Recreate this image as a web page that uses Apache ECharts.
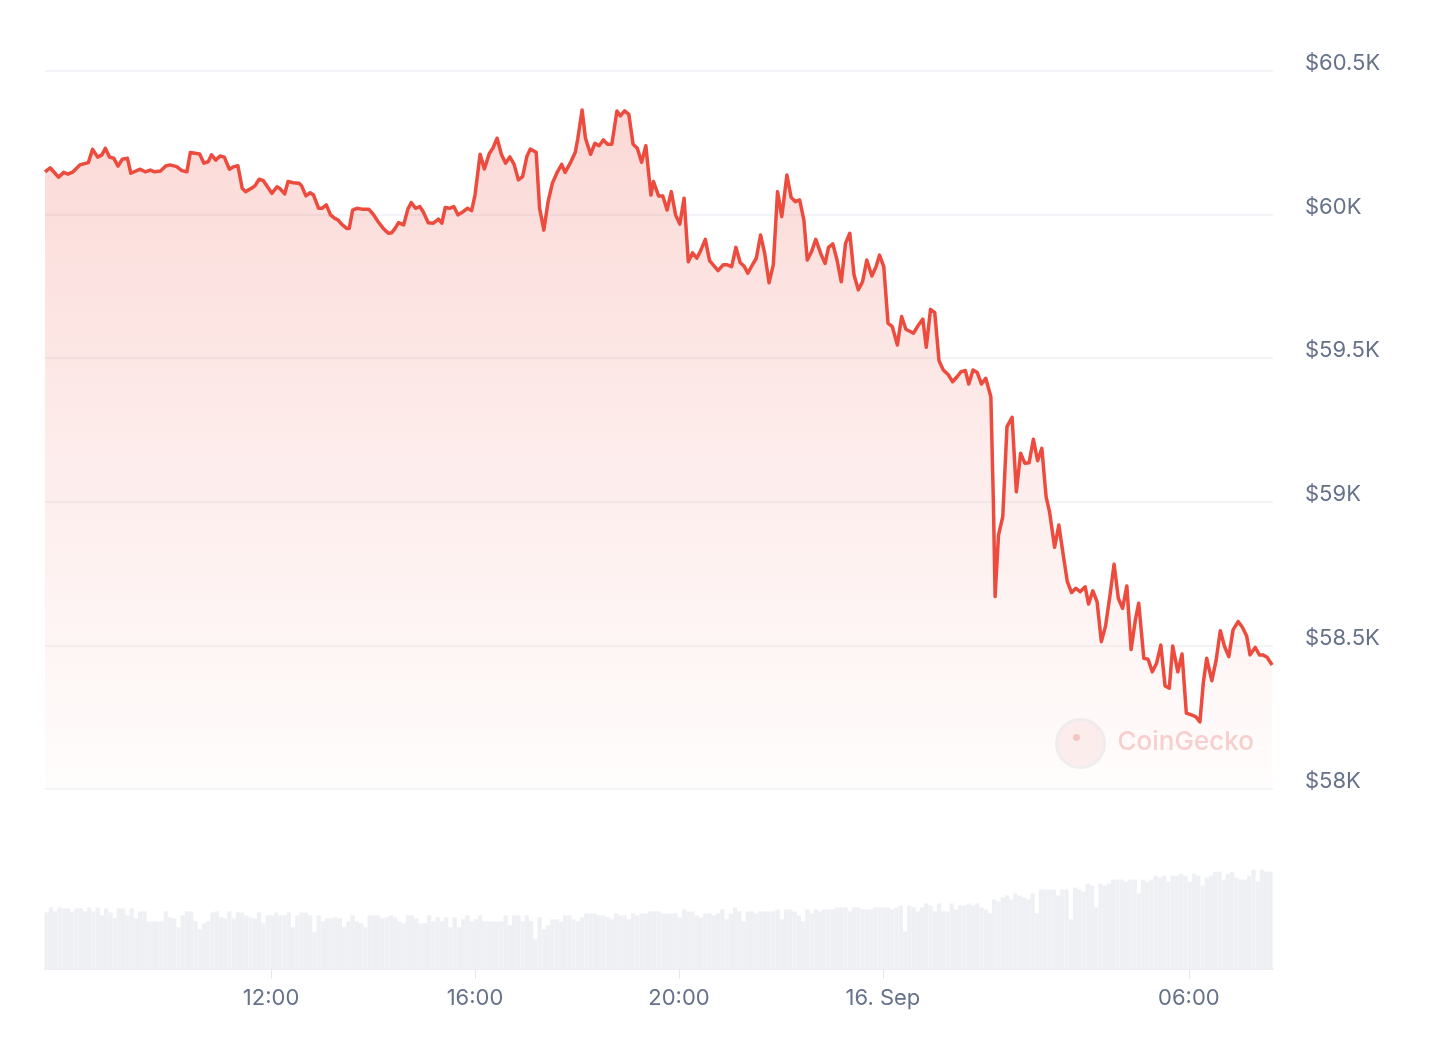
<!DOCTYPE html>
<html>
<head>
<meta charset="utf-8">
<script src="https://cdn.jsdelivr.net/npm/echarts@6/dist/echarts.min.js"></script>
<style>
html,body{margin:0;padding:0;background:#fff;}
#chart{width:1444px;height:1052px;}
</style>
</head>
<body>
<div id="chart"></div>
<script>
// Time reference: 15 Sep 2024 07:34 (UTC); minutes offset from it
const START = Date.UTC(2024, 8, 15, 7, 34);
const END = Date.UTC(2024, 8, 16, 7, 39);

const priceMinutes = [
0,6,16,22,27,33,41,51,56,62,
67,71,76,81,86,91,97,101,112,118,
124,129,136,142,147,155,161,167,171,182,
187,192,196,201,206,211,217,222,227,232,
236,243,247,252,257,267,273,276,282,286,
292,299,302,307,312,316,322,326,331,336,
341,345,349,355,358,362,367,373,381,386,
392,398,404,408,412,416,422,427,431,436,
441,445,451,457,463,467,471,476,481,486,
492,497,502,506,512,517,523,527,532,537,
542,547,552,557,562,567,571,578,582,587,
592,597,603,608,612,618,624,627,632,636,
642,647,652,657,662,667,673,677,682,687,
692,697,702,707,713,716,722,727,732,737,
742,747,752,757,762,767,771,777,782,788,
792,798,803,808,813,818,823,827,833,837,
842,847,852,857,862,867,873,878,883,888,
893,897,902,907,913,918,922,927,932,937,
942,947,952,957,962,967,973,978,982,987,
992,997,1003,1008,1013,1022,1027,1033,1037,1042,
1047,1052,1057,1063,1068,1074,1078,1083,1087,1092,
1097,1102,1107,1113,1116,1118,1122,1127,1132,1138,
1143,1148,1153,1158,1163,1168,1173,1178,1182,1188,
1193,1198,1203,1208,1213,1218,1224,1228,1233,1238,
1243,1248,1253,1258,1263,1268,1273,1278,1283,1287,
1293,1298,1303,1308,1313,1318,1323,1327,1333,1338,
1343,1349,1354,1359,1363,1367,1373,1378,1383,1388,
1393,1398,1404,1409,1414,1418,1424,1429,1433,1438,
1444
];

const priceValues = [
60149,60163,60130,60147,60141,60149,60173,60181,60227,60200,
60208,60231,60200,60196,60169,60193,60196,60144,60158,60149,
60155,60149,60152,60169,60173,60167,60153,60149,60216,60211,
60179,60184,60208,60190,60204,60200,60158,60167,60170,60092,
60080,60092,60100,60123,60118,60074,60097,60092,60072,60115,
60111,60109,60100,60065,60076,60068,60022,60022,60034,59999,
59987,59981,59967,59952,59952,60016,60022,60019,60019,60002,
59975,59952,59935,59937,59952,59972,59964,60019,60042,60022,
60028,60010,59972,59970,59984,59970,60025,60022,60028,59999,
60010,60022,60014,60068,60210,60159,60214,60231,60266,60210,
60179,60201,60175,60121,60132,60202,60228,60217,60022,59946,
60045,60109,60149,60175,60147,60179,60217,60266,60364,60266,
60210,60248,60240,60260,60245,60245,60361,60344,60361,60349,
60245,60231,60182,60240,60068,60115,60065,60065,60016,60080,
59999,59967,60057,59836,59867,59848,59871,59914,59840,59819,
59805,59825,59825,59819,59886,59833,59819,59796,59828,59848,
59929,59863,59763,59825,60080,59993,60138,60060,60045,60051,
59981,59842,59871,59914,59863,59830,59886,59898,59842,59766,
59900,59935,59790,59738,59766,59842,59786,59819,59859,59819,
59622,59610,59546,59645,59601,59587,59612,59636,59538,59670,
59659,59491,59459,59442,59418,59438,59453,59457,59410,59459,
59450,59410,59430,59366,58995,58670,58884,58948,59262,59294,
59035,59169,59134,59136,59218,59143,59186,59018,58966,58842,
58919,58818,58722,58684,58699,58687,58704,58644,58690,58652,
58513,58568,58670,58783,58664,58629,58707,58486,58588,58647,
58455,58452,58408,58438,58501,58359,58351,58498,58408,58470,
58264,58258,58252,58234,58370,58455,58377,58447,58551,58496,
58461,58554,58583,58563,58533,58467,58493,58467,58467,58459,
58432
];

// 5-minute volume bars (relative units, $M), first bar at 07:36
const VOL_START = Date.UTC(2024, 8, 15, 7, 36);
const volumeValues = [
57,62,58,62,61,61,57,61, 61,58,62,58,62,54,61,57, 51,61,61,54,61,51,58,58,
48,48,48,48,58,52,51, 42,54,58,58,48,40,46,48, 57,58,52,51,58,51,57,57,
54,52,51,57,46,54,54,57, 54,54,57,42,54,57,57,54, 37,54,48,51,51,52,51,
42,48,54,48,46,42,54,54, 54,51,52,54,52,48,46,54, 54,51,46,46,54,48,52,48,
52,42,52,42,50,54,48,50, 54,48,48,48,48,48,54, 44,54,54,48,54,48,30,52,
40,44,50,50,48,54,54,50, 48,52,56,56,56,54,54,52, 50,56,54,54,50,56,54,56,
56,58,58,58,56,56,56, 56,52,60,58,58,54,52,56, 56,54,56,60,50,56,62,58,
48,58,58,56,58,58,58,58, 60,50,60,60,58,54,48,60, 56,60,58,60,60,60,62,62,
62,58,62,62,60,60,60, 62,62,62,62,60,62,64,38, 64,62,58,62,66,64,58,66,
58,58,66,60,64,64,66,64, 66,62,60,56,70,68,72,74, 70,76,74,72,70,76,56,
80,80,80,80,74,80,80,50, 82,80,78,86,84,62,86,84, 86,90,90,90,88,90,90,76,
90,88,90,94,92,94,88,94, 94,96,94,88,96,94,84, 92,94,98,98,90,96,98,92,
90,90,94,100,88,100,98,98
];

// x-axis labels
const tickTimes = [
  Date.UTC(2024, 8, 15, 12, 0),
  Date.UTC(2024, 8, 15, 16, 0),
  Date.UTC(2024, 8, 15, 20, 0),
  Date.UTC(2024, 8, 16, 0, 0),
  Date.UTC(2024, 8, 16, 6, 0)
];
const tickLabels = ['12:00', '16:00', '20:00', '16. Sep', '06:00'];

const priceData = priceMinutes.map((m, i) => [START + m * 60000, priceValues[i]]);
const volumeData = volumeValues.map((v, i) => [VOL_START + i * 5 * 60000, v]);

const FONT = 'Inter, "Noto Sans", sans-serif';
const LABEL_COLOR = '#66728a';

const chart = echarts.init(document.getElementById('chart'), null, {renderer: 'canvas'});
chart.setOption({
  animation: false,
  backgroundColor: '#ffffff',
  grid: [
    {left: 45, right: 171, top: 71, height: 718},
    {left: 45, right: 171, top: 820, height: 149}
  ],
  xAxis: [
    {
      type: 'value', gridIndex: 0, min: START, max: END,
      axisLine: {show: false}, axisTick: {show: false}, axisLabel: {show: false}, splitLine: {show: false}
    },
    {
      type: 'value', gridIndex: 1, min: START, max: END,
      axisLine: {show: true, onZero: false, lineStyle: {color: '#eceef2', width: 2}},
      axisTick: {show: true, customValues: tickTimes, length: 10, lineStyle: {color: '#e6e8ec', width: 1}},
      axisLabel: {
        customValues: tickTimes,
        margin: 18,
        color: LABEL_COLOR,
        fontSize: 22,
        fontFamily: FONT,
        formatter: function (v) {
          const idx = tickTimes.indexOf(v);
          return idx >= 0 ? tickLabels[idx] : '';
        }
      },
      splitLine: {show: false}
    }
  ],
  yAxis: [
    {
      type: 'value', gridIndex: 0, position: 'right',
      min: 58000, max: 60500, interval: 500,
      axisLine: {show: false}, axisTick: {show: false},
      axisLabel: {
        margin: 32,
        color: LABEL_COLOR,
        fontSize: 22,
        fontFamily: FONT,
        align: 'left',
        verticalAlign: 'bottom',
        lineHeight: 15,
        formatter: v => '$' + (v / 1000) + 'K'
      },
      splitLine: {show: true, lineStyle: {color: '#eff0f4', width: 1.5}}
    },
    {
      type: 'value', gridIndex: 1, min: 0, max: 150, show: false,
      splitLine: {show: false}
    }
  ],
  series: [
    {
      type: 'bar', xAxisIndex: 1, yAxisIndex: 1,
      data: volumeData,
      barWidth: 4.3,
      itemStyle: {color: '#eff0f4'},
      silent: true
    },
    {
      type: 'line', xAxisIndex: 0, yAxisIndex: 0,
      data: priceData,
      showSymbol: false,
      smooth: false,
      z: 5,
      lineStyle: {color: '#ec4b3e', width: 3.5, join: 'round'},
      areaStyle: {
        origin: 'start',
        color: new echarts.graphic.LinearGradient(0, 0, 0, 1, [
          {offset: 0, color: 'rgba(236,75,62,0.30)'},
          {offset: 0.5, color: 'rgba(236,75,62,0.15)'},
          {offset: 1, color: 'rgba(236,75,62,0.02)'}
        ])
      }
    }
  ],
  graphic: [
    {
      type: 'group', left: 1055, top: 718, silent: true, z: 1,
      children: [
        {type: 'circle', shape: {cx: 26, cy: 26, r: 24},
         style: {fill: 'rgba(250,232,232,0.6)', stroke: '#f0f0f3', lineWidth: 3}},
        {type: 'circle', shape: {cx: 22, cy: 20, r: 3.5}, style: {fill: '#f6c9c6'}},
        {type: 'text', left: 63, top: 12,
         style: {text: 'CoinGecko', font: '500 26px Inter, sans-serif', fill: '#f7d3d0'}}
      ]
    }
  ]
});
</script>
</body>
</html>
